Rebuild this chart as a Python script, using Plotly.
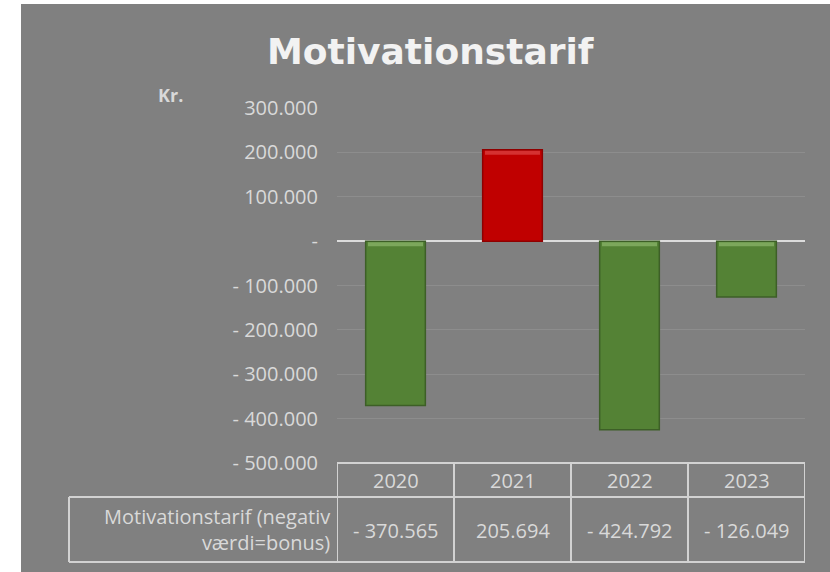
import plotly.graph_objects as go

# ---- data ----
years = ["2020", "2021", "2022", "2023"]
values = [-370565, 205694, -424792, -126049]
y_ticks = [300000, 200000, 100000, 0, -100000, -200000, -300000, -400000, -500000]
series_name = "Motivationstarif (negativ<br>værdi=bonus)"
title_text = "Motivationstarif"
unit_text = "Kr."

def fmt(v):
    if v == 0:
        return "-"
    s = f"{abs(v):,}".replace(",", ".")
    return ("- " + s) if v < 0 else s

W, H = 830, 572
L, R, T, B = 337, 25, 108, 109
pw, ph = W - L - R, H - T - B

def px(x):
    return (x - L) / pw

def py(y):
    return (H - B - y) / ph

BG = "#808080"
TXT = "#d9d9d9"
LINE = "#d2d2d2"
FONT = "Open Sans"
BAR_W = 0.51

colors = ["#548235" if v < 0 else "#c00000" for v in values]
edges = ["#3d5f27" if v < 0 else "#8f0000" for v in values]
highlights = ["#9cc77c" if v < 0 else "#e65a5a" for v in values]

fig = go.Figure()
fig.add_trace(go.Bar(
    x=years, y=values, width=BAR_W,
    marker=dict(color=colors, line=dict(color=edges, width=1.5)),
    showlegend=False, hoverinfo="skip",
))

shapes = []
# gray chart area
shapes.append(dict(type="rect", xref="paper", yref="paper",
                   x0=px(21), x1=px(W + 5), y0=py(H + 5), y1=py(4),
                   fillcolor=BG, line=dict(width=0), layer="below"))

# bevel-like highlight on the top edge of each bar (derived from the data)
for i, v in enumerate(values):
    top_val = max(v, 0)
    shapes.append(dict(type="rect", xref="x", yref="y", ysizemode="pixel", yanchor=top_val,
                       x0=i - BAR_W / 2 + 0.02, x1=i + BAR_W / 2 - 0.02, y0=-1, y1=-5,
                       fillcolor=highlights[i], opacity=0.55, line=dict(width=0), layer="above"))

# data table lines
n = len(years)
row1_bot = py(497)
row2_bot = py(562)
top = py(463)
lw = 2
shapes.append(dict(type="line", xref="x", yref="paper", x0=-0.5, x1=n - 0.5,
                   y0=top, y1=top, line=dict(color=LINE, width=lw)))
for yy in (row1_bot, row2_bot):
    shapes.append(dict(type="line", xref="paper", yref="paper", x0=px(69), x1=px(W - R),
                       y0=yy, y1=yy, line=dict(color=LINE, width=lw)))
shapes.append(dict(type="line", xref="paper", yref="paper", x0=px(69), x1=px(69),
                   y0=row1_bot, y1=row2_bot, line=dict(color=LINE, width=lw)))
for i in range(n + 1):
    shapes.append(dict(type="line", xref="x", yref="paper", x0=i - 0.5, x1=i - 0.5,
                       y0=top, y1=row2_bot, line=dict(color=LINE, width=lw)))

annotations = []
for i, (yr, v) in enumerate(zip(years, values)):
    annotations.append(dict(x=i, xref="x", y=py(480), yref="paper", text=yr,
                            xanchor="center", yanchor="middle",
                            showarrow=False, font=dict(family=FONT, size=20, color=TXT)))
    annotations.append(dict(x=i, xref="x", y=py(530), yref="paper", text=fmt(v),
                            xanchor="center", yanchor="middle",
                            showarrow=False, font=dict(family=FONT, size=20, color=TXT)))
annotations.append(dict(x=px(332), xref="paper", y=py(529), yref="paper", text=series_name,
                        xanchor="right", yanchor="middle", align="right", showarrow=False,
                        font=dict(family=FONT, size=20, color=TXT)))
annotations.append(dict(x=px(170), xref="paper", y=py(95), yref="paper", text="<b>" + unit_text + "</b>",
                        xanchor="center", yanchor="middle",
                        showarrow=False, font=dict(family=FONT, size=18, color=TXT)))
annotations.append(dict(x=px(430), xref="paper", y=py(52), yref="paper", text="<b>" + title_text + "</b>",
                        xanchor="center", yanchor="middle",
                        showarrow=False, font=dict(family="DejaVu Sans", size=36, color="#f2f2f2")))

fig.update_layout(
    width=W, height=H,
    margin=dict(l=L, r=R, t=T, b=B, autoexpand=False),
    paper_bgcolor="white", plot_bgcolor=BG,
    shapes=shapes, annotations=annotations,
    xaxis=dict(type="category", range=[-0.5, n - 0.5], showticklabels=False,
               showgrid=False, zeroline=False, showline=False, fixedrange=True),
    yaxis=dict(range=[-500000, 300000], tickvals=y_ticks, ticktext=[fmt(t) for t in y_ticks],
               showgrid=True, gridcolor="#8d8d8d", gridwidth=1,
               zeroline=True, zerolinecolor="#dcdcdc", zerolinewidth=2,
               showline=False, ticks="", ticklabelstandoff=18,
               tickfont=dict(family=FONT, size=20, color=TXT), fixedrange=True),
)

fig.write_html("out.html", config={"displayModeBar": False},
               post_script="document.body.style.margin='0';document.body.style.overflow='hidden';")
